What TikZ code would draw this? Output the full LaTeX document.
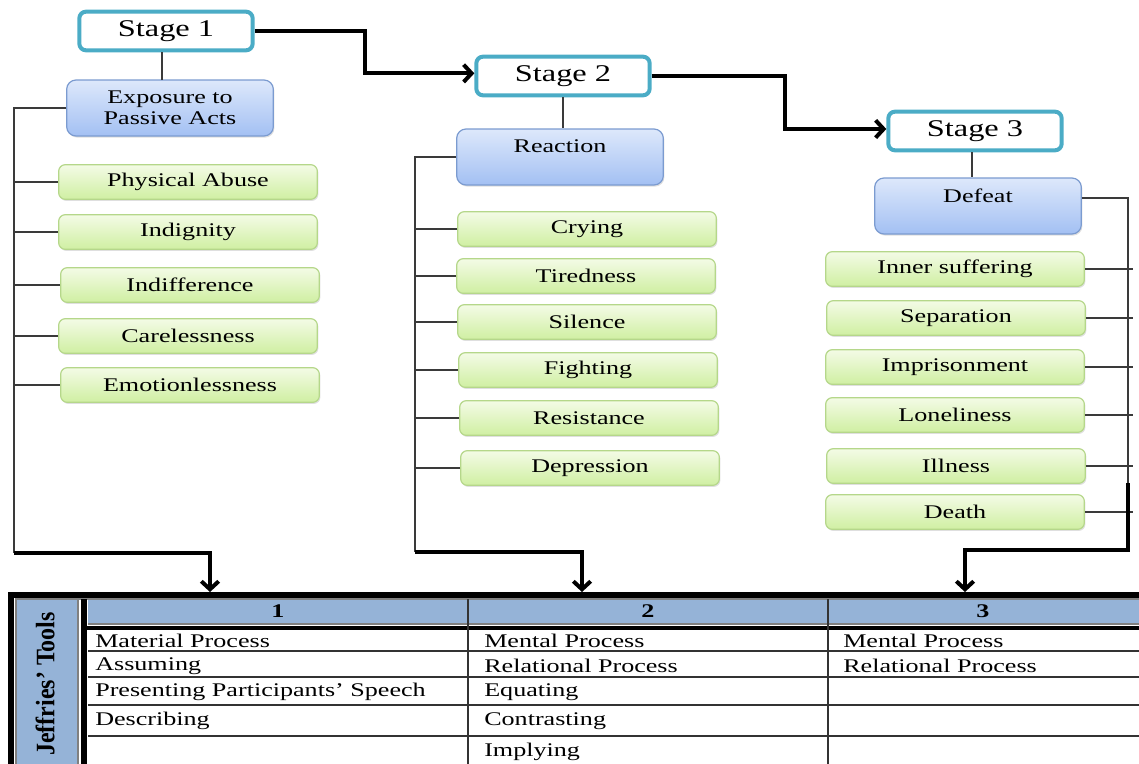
\documentclass[tikz,border=0pt]{standalone}
\usepackage{fontspec}
\setmainfont{Liberation Serif}[FakeStretch=1.35]
\newfontfamily\tallfont{Liberation Serif}[FakeStretch=0.9]
\usetikzlibrary{arrows.meta,shadows}

\definecolor{stageteal}{HTML}{4BACC6}
\definecolor{bluetop}{HTML}{DDE8FB}
\definecolor{bluebot}{HTML}{A3C0F3}
\definecolor{blueedge}{HTML}{7B9BD0}
\definecolor{greentop}{HTML}{F3FBE6}
\definecolor{greenbot}{HTML}{D0EFA2}
\definecolor{greenedge}{HTML}{B5D78A}
\definecolor{headblue}{HTML}{95B3D7}
\definecolor{wirecol}{HTML}{3A3A3A}

\begin{document}
\begin{tikzpicture}[
    x=0.75pt, y=-0.75pt,
    stage/.style={rectangle, draw=stageteal, line width=3pt, rounded corners=5pt, fill=white, inner sep=0pt, minimum width=130pt, minimum height=29pt, font=\fontsize{18}{20}\selectfont},
    phase/.style={rectangle, draw=blueedge, line width=0.9pt, rounded corners=7pt, top color=bluetop, bottom color=bluebot, inner sep=0pt, minimum width=155pt, minimum height=42pt, align=center, font=\fontsize{14.5}{15.75}\selectfont, drop shadow={opacity=0.25, shadow xshift=0.8pt, shadow yshift=-1.2pt}},
    item/.style={rectangle, draw=greenedge, line width=0.9pt, rounded corners=5pt, top color=greentop, bottom color=greenbot, inner sep=0pt, minimum width=194pt, minimum height=26pt, font=\fontsize{14.5}{16}\selectfont, drop shadow={opacity=0.25, shadow xshift=0.8pt, shadow yshift=-1.2pt}},
    wire/.style={draw=wirecol, line width=1pt},
    flow/.style={draw=black, line width=3pt, -{Straight Barb[length=6pt,width=13pt]}},
    cell/.style={anchor=west, inner sep=0pt, font=\fontsize{14.5}{16}\selectfont},
    headcell/.style={inner sep=0pt, font=\fontsize{14.5}{16}\selectfont\bfseries},
    rule/.style={draw=black!80, line width=0.9pt}
]
\useasboundingbox (0,0) rectangle (1139,764);

% Stage nodes
\node[stage] (s1) at (166,31) {Stage 1};
\node[stage] (s2) at (563,76) {Stage 2};
\node[stage] (s3) at (975,131) {Stage 3};

% Phase nodes
\node[phase] (expo) at (170,108) {Exposure to\\Passive Acts};
\node[phase] (react) at (560,157) {Reaction\\\mbox{}};
\node[phase] (defeat) at (978,206) {Defeat\\\mbox{}};

% Stage 1 items
\node[item] (abuse) at (188,182) {Physical Abuse};
\node[item] (indign) at (188,232) {Indignity};
\node[item] (indiff) at (190,285) {Indifference};
\node[item] (careless) at (188,336) {Carelessness};
\node[item] (emotion) at (190,385) {Emotionlessness};

% Stage 2 items
\node[item] (crying) at (587,229) {Crying};
\node[item] (tired) at (586,276) {Tiredness};
\node[item] (silence) at (587,322) {Silence};
\node[item] (fight) at (588,370) {Fighting};
\node[item] (resist) at (589,418) {Resistance};
\node[item] (depress) at (590,468) {Depression};

% Stage 3 items
\node[item] (inner) at (955,269) {Inner suffering};
\node[item] (separ) at (956,318) {Separation};
\node[item] (prison) at (955,367) {Imprisonment};
\node[item] (lonely) at (955,415) {Loneliness};
\node[item] (illness) at (956,466) {Illness};
\node[item] (death) at (955,512) {Death};

% Stage links
\draw[flow] (s1.east) -- ++(110,0) |- ([yshift=2pt]s2.west);
\draw[flow] (s2.east) -- ++(133,0) |- ([yshift=1.5pt]s3.west);
\draw[wire] (s1.south) ++(-4,0) -- ++(0,28);
\draw[wire] (s2.south) -- (s2.south |- react.north);
\draw[wire] (s3.south) ++(-3,0) -- ++(0,25);

% Tree corners and arrow ends
\coordinate (t1) at (14,553);
\coordinate (t2) at (415,552);
\coordinate (t3) at (1128,483);
\coordinate (t3b) at (1128,550);
\coordinate (in1) at (210,592);
\coordinate (in2) at (582,592);
\coordinate (in3) at (965,592);

% Stage 1 tree
\draw[wire] (expo.west) -| (t1);
\foreach \n in {abuse,indign,indiff,careless,emotion}
    \draw[wire] (\n.west) -- (\n.west -| t1);
\draw[flow] (t1) -| (in1);

% Stage 2 tree
\draw[wire] (react.west) -| (t2);
\foreach \n in {crying,tired,silence,fight,resist,depress}
    \draw[wire] (\n.west) -- (\n.west -| t2);
\draw[flow] (t2) -| (in2);

% Stage 3 tree
\draw[wire] ([yshift=6pt]defeat.east) -| (t3);
\foreach \n in {inner,separ,prison,lonely,illness,death}
    \draw[wire] (\n.east) -- ([xshift=3.5pt]\n.east -| t3);
\draw[flow] (t3) -- (t3b) -| (in3);

% Table frame
\fill[headblue] (17,599) rectangle (78,764);
\fill[headblue] (88,599) rectangle (1139,624);
\draw[gray, line width=0.9pt] (16,764) -- (16,599) -- (1139,599);
\draw[gray, line width=0.9pt] (78,599) -- (78,764);
\draw[gray, line width=0.9pt] (88,624) -- (1139,624);
\draw[black, line width=4pt] (8,595) -- (1139,595);
\draw[black, line width=5pt] (11,593) -- (11,764);
\draw[black, line width=4.5pt] (84,599) -- (84,764);
\draw[black, line width=2.5pt] (86,628) -- (1139,628);
\draw[rule] (468,599) -- (468,764);
\draw[rule] (828,599) -- (828,764);
\foreach \r in {651,677,705,736}
    \draw[rule] (88,\r) -- (1139,\r);

% Table text
\node[rotate=90, inner sep=0pt, font=\tallfont\fontsize{20}{22}\selectfont\bfseries] (tools) at (45,684) {Jeffries’ Tools};
\node[headcell] (h1) at (278,611) {1};
\node[headcell] (h2) at (648,611) {2};
\node[headcell] (h3) at (983,611) {3};

\node[cell] (a1) at (95,641) {Material Process};
\node[cell] (a2) at (95,666) {Assuming};
\node[cell] (a3) at (95,692) {Presenting Participants’ Speech};
\node[cell] (a4) at (95,721) {Describing};

\node[cell] (b1) at (484,641) {Mental Process};
\node[cell] (b2) at (484,666) {Relational Process};
\node[cell] (b3) at (484,692) {Equating};
\node[cell] (b4) at (484,721) {Contrasting};
\node[cell] (b5) at (484,752) {Implying};

\node[cell] (c1) at (843,641) {Mental Process};
\node[cell] (c2) at (843,666) {Relational Process};
\end{tikzpicture}
\end{document}
